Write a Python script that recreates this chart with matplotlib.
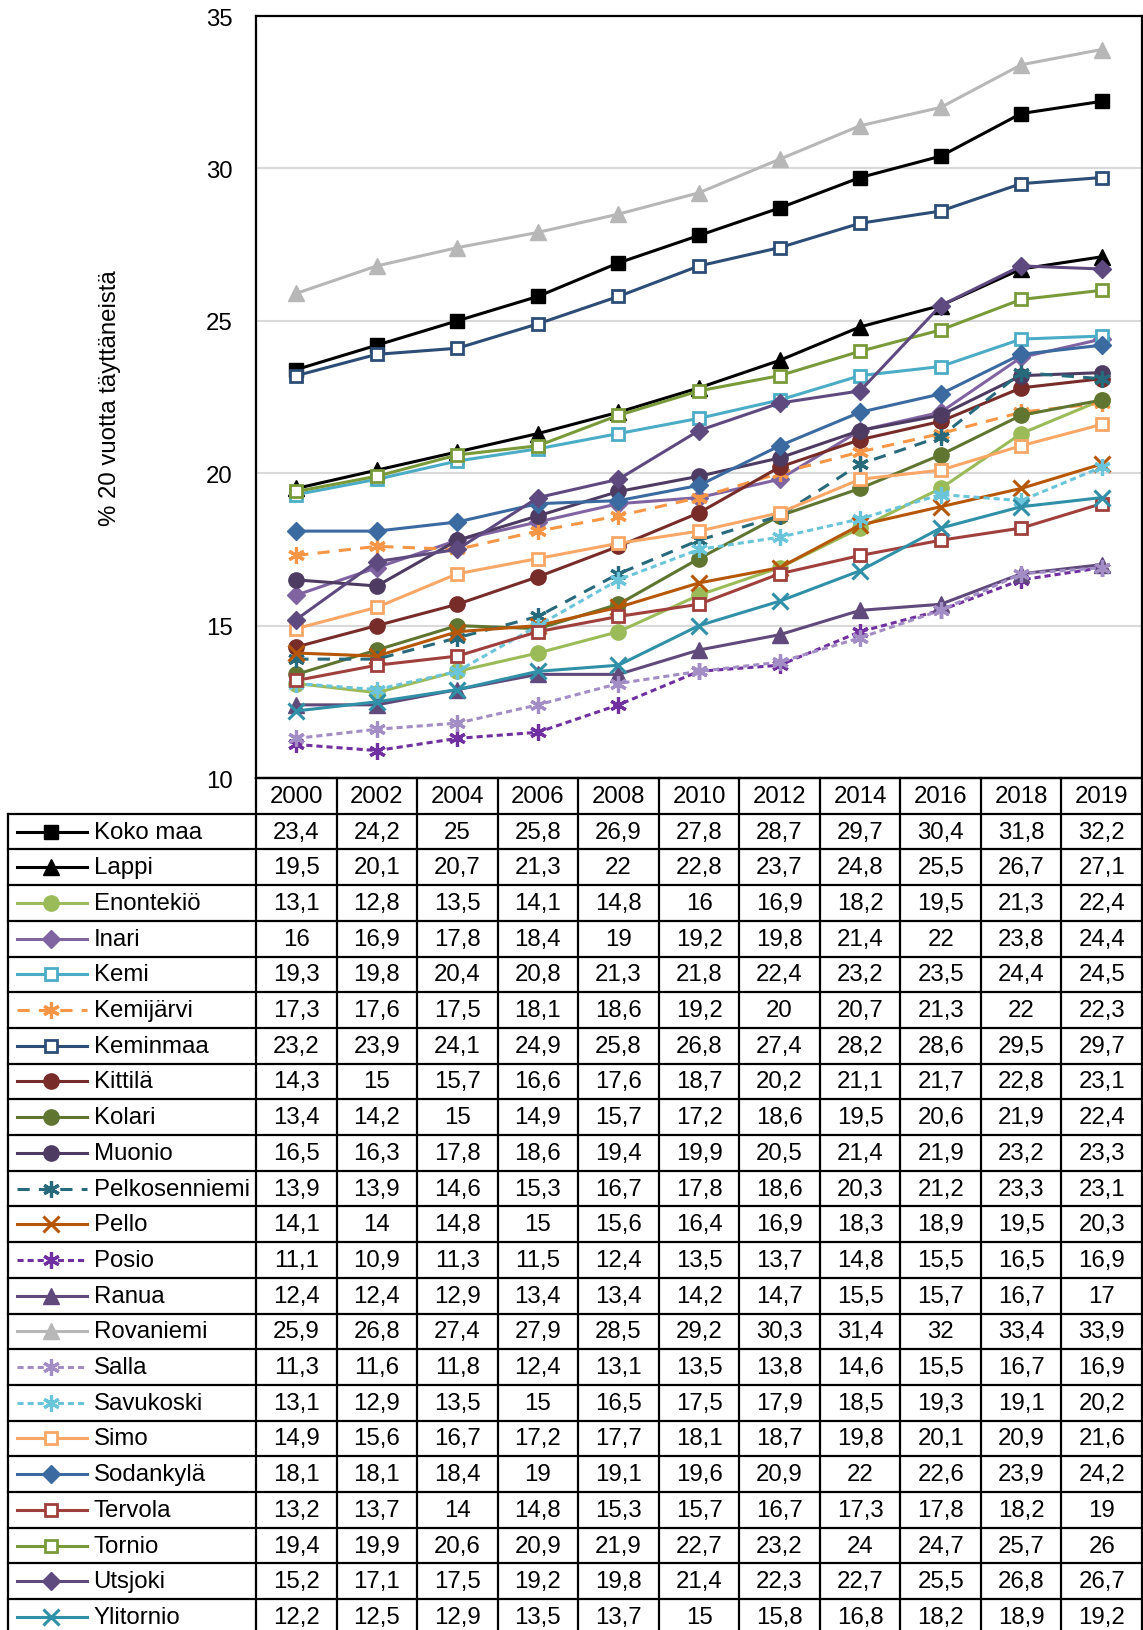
import matplotlib
matplotlib.use("Agg")
import matplotlib.pyplot as plt
from matplotlib.lines import Line2D

plt.rcParams['font.family'] = ['Liberation Sans', 'DejaVu Sans']

years = ["2000", "2002", "2004", "2006", "2008", "2010", "2012", "2014", "2016", "2018", "2019"]

names = ["Koko maa", "Lappi", "Enontekiö", "Inari", "Kemi", "Kemijärvi", "Keminmaa",
         "Kittilä", "Kolari", "Muonio", "Pelkosenniemi", "Pello", "Posio", "Ranua",
         "Rovaniemi", "Salla", "Savukoski", "Simo", "Sodankylä", "Tervola", "Tornio",
         "Utsjoki", "Ylitornio"]

koko_maa      = [23.4, 24.2, 25, 25.8, 26.9, 27.8, 28.7, 29.7, 30.4, 31.8, 32.2]
lappi         = [19.5, 20.1, 20.7, 21.3, 22, 22.8, 23.7, 24.8, 25.5, 26.7, 27.1]
enontekio     = [13.1, 12.8, 13.5, 14.1, 14.8, 16, 16.9, 18.2, 19.5, 21.3, 22.4]
inari         = [16, 16.9, 17.8, 18.4, 19, 19.2, 19.8, 21.4, 22, 23.8, 24.4]
kemi          = [19.3, 19.8, 20.4, 20.8, 21.3, 21.8, 22.4, 23.2, 23.5, 24.4, 24.5]
kemijarvi     = [17.3, 17.6, 17.5, 18.1, 18.6, 19.2, 20, 20.7, 21.3, 22, 22.3]
keminmaa      = [23.2, 23.9, 24.1, 24.9, 25.8, 26.8, 27.4, 28.2, 28.6, 29.5, 29.7]
kittila       = [14.3, 15, 15.7, 16.6, 17.6, 18.7, 20.2, 21.1, 21.7, 22.8, 23.1]
kolari        = [13.4, 14.2, 15, 14.9, 15.7, 17.2, 18.6, 19.5, 20.6, 21.9, 22.4]
muonio        = [16.5, 16.3, 17.8, 18.6, 19.4, 19.9, 20.5, 21.4, 21.9, 23.2, 23.3]
pelkosenniemi = [13.9, 13.9, 14.6, 15.3, 16.7, 17.8, 18.6, 20.3, 21.2, 23.3, 23.1]
pello         = [14.1, 14, 14.8, 15, 15.6, 16.4, 16.9, 18.3, 18.9, 19.5, 20.3]
posio         = [11.1, 10.9, 11.3, 11.5, 12.4, 13.5, 13.7, 14.8, 15.5, 16.5, 16.9]
ranua         = [12.4, 12.4, 12.9, 13.4, 13.4, 14.2, 14.7, 15.5, 15.7, 16.7, 17]
rovaniemi     = [25.9, 26.8, 27.4, 27.9, 28.5, 29.2, 30.3, 31.4, 32, 33.4, 33.9]
salla         = [11.3, 11.6, 11.8, 12.4, 13.1, 13.5, 13.8, 14.6, 15.5, 16.7, 16.9]
savukoski     = [13.1, 12.9, 13.5, 15, 16.5, 17.5, 17.9, 18.5, 19.3, 19.1, 20.2]
simo          = [14.9, 15.6, 16.7, 17.2, 17.7, 18.1, 18.7, 19.8, 20.1, 20.9, 21.6]
sodankyla     = [18.1, 18.1, 18.4, 19, 19.1, 19.6, 20.9, 22, 22.6, 23.9, 24.2]
tervola       = [13.2, 13.7, 14, 14.8, 15.3, 15.7, 16.7, 17.3, 17.8, 18.2, 19]
tornio        = [19.4, 19.9, 20.6, 20.9, 21.9, 22.7, 23.2, 24, 24.7, 25.7, 26]
utsjoki       = [15.2, 17.1, 17.5, 19.2, 19.8, 21.4, 22.3, 22.7, 25.5, 26.8, 26.7]
ylitornio     = [12.2, 12.5, 12.9, 13.5, 13.7, 15, 15.8, 16.8, 18.2, 18.9, 19.2]

series = [koko_maa, lappi, enontekio, inari, kemi, kemijarvi, keminmaa, kittila, kolari,
          muonio, pelkosenniemi, pello, posio, ranua, rovaniemi, salla, savukoski, simo,
          sodankyla, tervola, tornio, utsjoki, ylitornio]

AST = (6, 2, 0)
LONG = (0, (4, 3))
SHORT = (0, (2, 1.3))
# color, marker, linestyle, filled
styles = [
    ("#000000", "s", "-", True),
    ("#000000", "^", "-", True),
    ("#9BBB59", "o", "-", True),
    ("#8064A2", "D", "-", True),
    ("#4BACC6", "s", "-", False),
    ("#F79646", AST, LONG, True),
    ("#2C4D75", "s", "-", False),
    ("#772C2A", "o", "-", True),
    ("#5F7530", "o", "-", True),
    ("#4D3B62", "o", "-", True),
    ("#276A7C", AST, LONG, True),
    ("#B65708", "x", "-", True),
    ("#7030A0", AST, SHORT, True),
    ("#604A7B", "^", "-", True),
    ("#B7B7B7", "^", "-", True),
    ("#A28DC4", AST, SHORT, True),
    ("#6BC5DA", AST, SHORT, True),
    ("#F9A766", "s", "-", False),
    ("#3A6AA0", "D", "-", True),
    ("#A0403D", "s", "-", False),
    ("#7A9A3A", "s", "-", False),
    ("#5F4A80", "D", "-", True),
    ("#3090A8", "x", "-", True),
]

def mstyle(color, marker, filled):
    kw = dict(marker=marker, color=color, markeredgecolor=color)
    if marker == "s" and not filled:
        kw.update(markersize=9, markerfacecolor="white", markeredgewidth=2)
    elif marker == "s":
        kw.update(markersize=10.5, markerfacecolor=color)
    elif marker == "^":
        kw.update(markersize=11, markerfacecolor=color)
    elif marker == "o":
        kw.update(markersize=11, markerfacecolor=color)
    elif marker == "D":
        kw.update(markersize=9, markerfacecolor=color)
    elif marker == "x":
        kw.update(markersize=11, markeredgewidth=2.2)
    else:
        kw.update(markersize=12, markeredgewidth=2.3)
    return kw

W, H = 1143, 1631
fig = plt.figure(figsize=(W / 100, H / 100), dpi=100)

px_left, px_right, px_top, px_plot_bottom, px_tab_left = 256, 1142, 17, 779, 8
row_h = 35.7
FS = 17.3

ax = fig.add_axes([px_left / W, 1 - px_plot_bottom / H,
                   (px_right - px_left) / W, (px_plot_bottom - px_top) / H])
x = list(range(len(years)))
for vals, (c, m, ls, f) in zip(series, styles):
    ax.plot(x, vals, linestyle=ls, linewidth=2.2, **mstyle(c, m, f))
ax.set_xlim(-0.5, len(years) - 0.5)
ax.set_ylim(10, 35)
ax.set_yticks([10, 15, 20, 25, 30, 35])
ax.set_xticks([])
ax.yaxis.grid(True, color="#D9D9D9", linewidth=1.5)
ax.set_axisbelow(True)
ax.tick_params(axis="y", length=0, pad=17, labelsize=FS)
for s in ax.spines.values():
    s.set_color("black")
    s.set_linewidth(1.6)

fig.text(110 / W, 1 - 398 / H, "% 20 vuotta täyttäneistä", rotation=90,
         ha="center", va="center", fontsize=17.3)

# Table
ncol = len(years)
nrows = len(names) + 1
colw = (px_right - px_left) / ncol
leg_w = (px_left - px_tab_left) / colw
xl = -0.5 - leg_w
tab_h = nrows * row_h
tax = fig.add_axes([px_tab_left / W, 1 - (px_plot_bottom + tab_h) / H,
                    (px_right - px_tab_left) / W, tab_h / H])
tax.set_xlim(xl, ncol - 0.5)
tax.set_ylim(nrows, 0)
tax.axis("off")
lw = 1.6
tax.plot([-0.5, ncol - 0.5], [0, 0], color="black", lw=lw, clip_on=False)
for r in range(1, nrows + 1):
    tax.plot([xl, ncol - 0.5], [r, r], color="black", lw=lw, clip_on=False)
for k in range(ncol + 1):
    tax.plot([-0.5 + k, -0.5 + k], [0, nrows], color="black", lw=lw, clip_on=False)
tax.plot([xl, xl], [1, nrows], color="black", lw=lw, clip_on=False)

for j, yr in enumerate(years):
    tax.text(j, 0.5, yr, ha="center", va="center", fontsize=FS)

def fmt(v):
    return f"{v:g}".replace(".", ",")

for i, (nm, vals, (c, m, ls, f)) in enumerate(zip(names, series, styles)):
    yc = i + 1.5
    x0 = xl + 0.036 * leg_w
    x1 = xl + 0.32 * leg_w
    xm = xl + 0.175 * leg_w
    tax.add_line(Line2D([x0, x1], [yc, yc], color=c, linestyle=ls, linewidth=2.2))
    tax.add_line(Line2D([xm], [yc], linestyle="none", **mstyle(c, m, f)))
    tax.text(xl + 0.345 * leg_w, yc, nm, ha="left", va="center", fontsize=FS)
    for j, v in enumerate(vals):
        tax.text(j, yc, fmt(v), ha="center", va="center", fontsize=FS)

fig.savefig("out.png", dpi=100)
